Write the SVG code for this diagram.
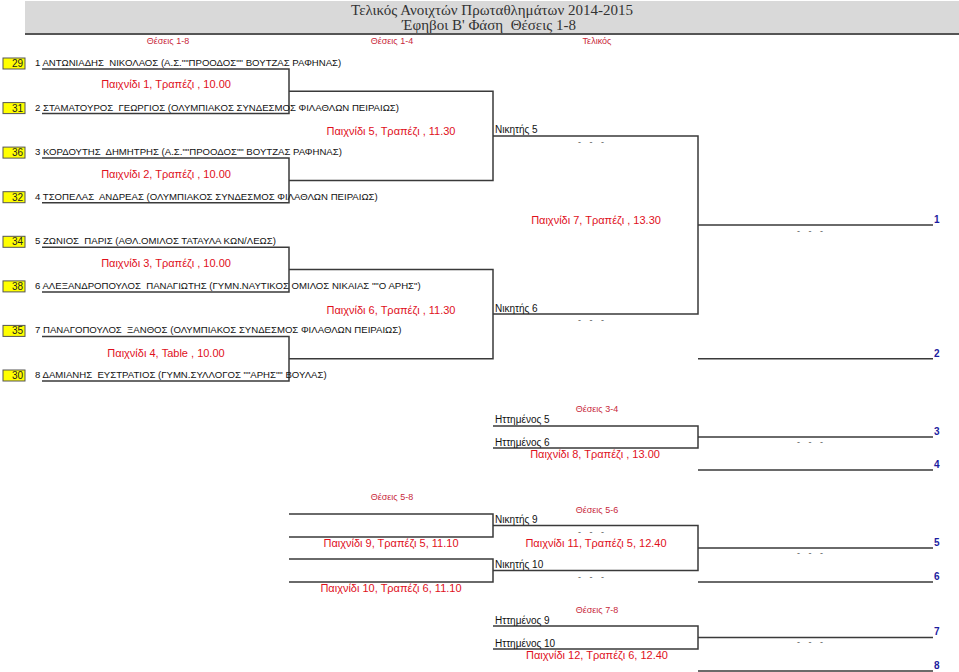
<svg xmlns="http://www.w3.org/2000/svg" width="959" height="672" viewBox="0 0 959 672">
<style>
.hdr{font-family:"Liberation Serif","Times New Roman",serif;font-size:15px;fill:#333;text-anchor:middle}
.col{font-family:"Liberation Sans",Arial,sans-serif;font-size:9px;fill:#c8283a;text-anchor:middle}
.name{font-family:"Liberation Sans",Arial,sans-serif;font-size:9.6px;fill:#111}
.seed{font-family:"Liberation Sans",Arial,sans-serif;font-size:10px;fill:#222;text-anchor:end}
.box{fill:#ffff00;stroke:#555;stroke-width:1}
.game{font-family:"Liberation Sans",Arial,sans-serif;font-size:11px;fill:#e0101c;text-anchor:middle}
.slot{font-family:"Liberation Sans",Arial,sans-serif;font-size:10px;fill:#111}
.dash{font-family:"Liberation Sans",Arial,sans-serif;font-size:9px;fill:#555;text-anchor:middle;word-spacing:6px}
.place{font-family:"Liberation Sans",Arial,sans-serif;font-size:10px;font-weight:bold;fill:#1c1ca0}
.ln{fill:none;stroke:#3a3a3a;stroke-width:1.5}
</style>
<g id="header">
<rect x="25" y="1" width="934" height="32" fill="#d9d9d9"/>
<line x1="25" y1="34" x2="959" y2="34" stroke="#555" stroke-width="2"/>
<text class="hdr" x="492" y="15">Τελικός Ανοιχτών Πρωταθλημάτων 2014-2015</text>
<text class="hdr" x="489" y="30" xml:space="preserve">Έφηβοι Β' Φάση  Θέσεις 1-8</text>
<text class="col" x="168" y="44">Θέσεις 1-8</text>
<text class="col" x="392" y="44">Θέσεις 1-4</text>
<text class="col" x="597" y="44">Τελικός</text>
</g>
<g id="connectors">
<path class="ln" d="M42 69H289V113.6H42M42 158.1H289V202.7H42M42 247.3H289V291.9H42M42 336.4H289V381H42"/>
<path class="ln" d="M289 91.3H493V180.4H289M289 269.6H493V358.7H289"/>
<path class="ln" d="M493 135.9H698V314.1H493M698 225H933M698 358.7H933"/>
<path class="ln" d="M493 426H698V448H493M698 437H933M698 470H933"/>
<path class="ln" d="M289 514H493V537H289M289 559H493V582H289"/>
<path class="ln" d="M493 525.5H698V570.5H493M698 548H933M698 582H933"/>
<path class="ln" d="M493 626H698V649H493M698 637.5H933M698 671H933"/>
</g>
<g id="p1"><rect class="box" x="3" y="58" width="22" height="11"/><text class="seed" x="23" y="67">29</text><text class="name" x="35" y="66" xml:space="preserve">1 ΑΝΤΩΝΙΑΔΗΣ  ΝΙΚΟΛΑΟΣ (Α.Σ.&quot;&quot;ΠΡΟΟΔΟΣ&quot;&quot; ΒΟΥΤΖΑΣ ΡΑΦΗΝΑΣ)</text></g>
<g id="p2"><rect class="box" x="3" y="102.6" width="22" height="11"/><text class="seed" x="23" y="111.6">31</text><text class="name" x="35" y="110.6" xml:space="preserve">2 ΣΤΑΜΑΤΟΥΡΟΣ  ΓΕΩΡΓΙΟΣ (ΟΛΥΜΠΙΑΚΟΣ ΣΥΝΔΕΣΜΟΣ ΦΙΛΑΘΛΩΝ ΠΕΙΡΑΙΩΣ)</text></g>
<g id="p3"><rect class="box" x="3" y="147.1" width="22" height="11"/><text class="seed" x="23" y="156.1">36</text><text class="name" x="35" y="155.1" xml:space="preserve">3 ΚΟΡΔΟΥΤΗΣ  ΔΗΜΗΤΡΗΣ (Α.Σ.&quot;&quot;ΠΡΟΟΔΟΣ&quot;&quot; ΒΟΥΤΖΑΣ ΡΑΦΗΝΑΣ)</text></g>
<g id="p4"><rect class="box" x="3" y="191.7" width="22" height="11"/><text class="seed" x="23" y="200.7">32</text><text class="name" x="35" y="199.7" xml:space="preserve">4 ΤΣΟΠΕΛΑΣ  ΑΝΔΡΕΑΣ (ΟΛΥΜΠΙΑΚΟΣ ΣΥΝΔΕΣΜΟΣ ΦΙΛΑΘΛΩΝ ΠΕΙΡΑΙΩΣ)</text></g>
<g id="p5"><rect class="box" x="3" y="236.3" width="22" height="11"/><text class="seed" x="23" y="245.3">34</text><text class="name" x="35" y="244.3" xml:space="preserve">5 ΖΩΝΙΟΣ  ΠΑΡΙΣ (ΑΘΛ.ΟΜΙΛΟΣ ΤΑΤΑΥΛΑ ΚΩΝ/ΛΕΩΣ)</text></g>
<g id="p6"><rect class="box" x="3" y="280.9" width="22" height="11"/><text class="seed" x="23" y="289.9">38</text><text class="name" x="35" y="288.9" xml:space="preserve">6 ΑΛΕΞΑΝΔΡΟΠΟΥΛΟΣ  ΠΑΝΑΓΙΩΤΗΣ (ΓΥΜΝ.ΝΑΥΤΙΚΟΣ ΟΜΙΛΟΣ ΝΙΚΑΙΑΣ &quot;&quot;Ο ΑΡΗΣ&quot;)</text></g>
<g id="p7"><rect class="box" x="3" y="325.4" width="22" height="11"/><text class="seed" x="23" y="334.4">35</text><text class="name" x="35" y="333.4" xml:space="preserve">7 ΠΑΝΑΓΟΠΟΥΛΟΣ  ΞΑΝΘΟΣ (ΟΛΥΜΠΙΑΚΟΣ ΣΥΝΔΕΣΜΟΣ ΦΙΛΑΘΛΩΝ ΠΕΙΡΑΙΩΣ)</text></g>
<g id="p8"><rect class="box" x="3" y="370" width="22" height="11"/><text class="seed" x="23" y="379">30</text><text class="name" x="35" y="378" xml:space="preserve">8 ΔΑΜΙΑΝΗΣ  ΕΥΣΤΡΑΤΙΟΣ (ΓΥΜΝ.ΣΥΛΛΟΓΟΣ &quot;&quot;ΑΡΗΣ&quot;&quot; ΒΟΥΛΑΣ)</text></g>
<g id="g1"><text class="game" x="166" y="88">Παιχνίδι 1, Τραπέζι , 10.00</text></g>
<g id="g2"><text class="game" x="166" y="178">Παιχνίδι 2, Τραπέζι , 10.00</text></g>
<g id="g3"><text class="game" x="166" y="267">Παιχνίδι 3, Τραπέζι , 10.00</text></g>
<g id="g4"><text class="game" x="166" y="357">Παιχνίδι 4, Table , 10.00</text></g>
<g id="g5"><text class="game" x="391" y="135">Παιχνίδι 5, Τραπέζι , 11.30</text></g>
<g id="g6"><text class="game" x="391" y="314">Παιχνίδι 6, Τραπέζι , 11.30</text></g>
<g id="w5"><text class="slot" x="495" y="133">Νικητής 5</text><text class="dash" x="591" y="145">- - -</text></g>
<g id="w6"><text class="slot" x="495" y="312">Νικητής 6</text><text class="dash" x="591" y="323">- - -</text></g>
<g id="g7"><text class="game" x="596" y="224">Παιχνίδι 7, Τραπέζι , 13.30</text><text class="dash" x="810" y="234">- - -</text></g>
<g id="r1"><text class="place" x="934" y="223">1</text></g>
<g id="r2"><text class="place" x="934" y="357">2</text></g>
<g id="g8">
<text class="col" x="597" y="412">Θέσεις 3-4</text>
<text class="slot" x="495" y="423">Ηττημένος 5</text>
<text class="slot" x="495" y="446">Ηττημένος 6</text>
<text class="game" x="595" y="458">Παιχνίδι 8, Τραπέζι , 13.00</text>
<text class="dash" x="810" y="445">- - -</text>
</g>
<g id="r3"><text class="place" x="934" y="435">3</text></g>
<g id="r4"><text class="place" x="934" y="468">4</text></g>
<g id="g9">
<text class="col" x="392" y="500">Θέσεις 5-8</text>
<text class="game" x="391" y="547">Παιχνίδι 9, Τραπέζι 5, 11.10</text>
</g>
<g id="g10"><text class="game" x="391" y="592">Παιχνίδι 10, Τραπέζι 6, 11.10</text></g>
<g id="g11">
<text class="col" x="597" y="513">Θέσεις 5-6</text>
<text class="slot" x="495" y="523">Νικητής 9</text>
<text class="dash" x="591" y="535">- - -</text>
<text class="game" x="596" y="547">Παιχνίδι 11, Τραπέζι 5, 12.40</text>
<text class="slot" x="495" y="568">Νικητής 10</text>
<text class="dash" x="591" y="580">- - -</text>
<text class="dash" x="810" y="556">- - -</text>
</g>
<g id="r5"><text class="place" x="934" y="546">5</text></g>
<g id="r6"><text class="place" x="934" y="580">6</text></g>
<g id="g12">
<text class="col" x="597" y="613">Θέσεις 7-8</text>
<text class="slot" x="495" y="624">Ηττημένος 9</text>
<text class="slot" x="495" y="647">Ηττημένος 10</text>
<text class="game" x="597" y="659">Παιχνίδι 12, Τραπέζι 6, 12.40</text>
<text class="dash" x="810" y="645">- - -</text>
</g>
<g id="r7"><text class="place" x="934" y="635">7</text></g>
<g id="r8"><text class="place" x="934" y="669">8</text></g>
</svg>
